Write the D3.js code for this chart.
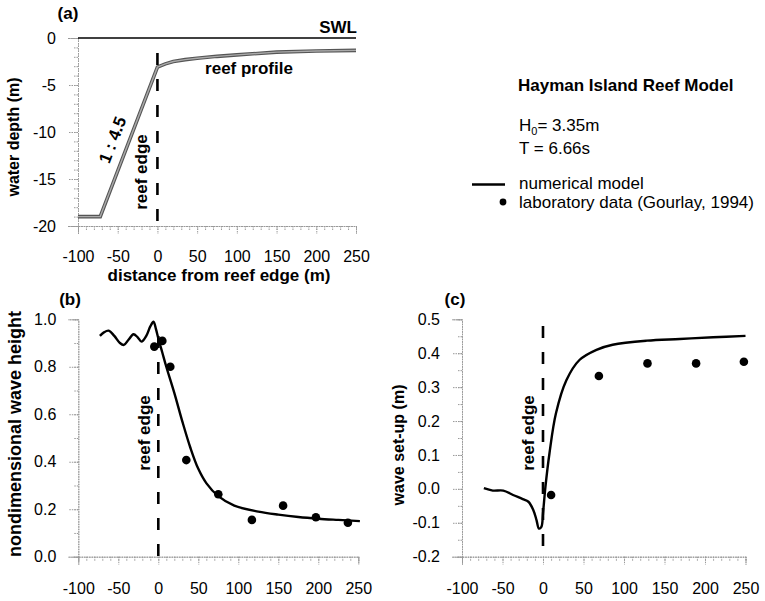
<!DOCTYPE html>
<html>
<head>
<meta charset="utf-8">
<script src="https://cdn.jsdelivr.net/npm/d3@7"></script>
<style>
  body { margin: 0; background: #fff; }
  svg text { font-family: "Liberation Sans", Arial, sans-serif; fill: #000; }
  .axis path, .axis line { stroke: #999; stroke-width: 1; stroke-dasharray: 1.5,1; }
  .axis text { font-size: 16px; }
</style>
</head>
<body>
<svg id="chart" width="765" height="601"></svg>
<script>
// (a) reef profile, depth in m against distance from the reef edge
var reefX = [-100, -72, 0, 10, 20, 35, 50, 75, 100, 150, 200, 250];
var reefZ = [-19, -19, -3.1, -2.75, -2.5, -2.3, -2.15, -1.95, -1.8, -1.5, -1.38, -1.32];
var swlX = [-100, 250];
var swlZ = [0, 0];

// (b) nondimensional wave height
var heightX = [-73, -68, -62, -55, -48, -43, -37, -31, -26, -21, -15, -10, -6, -3, 0, 5, 10, 20, 30, 40, 50, 60, 75, 95, 125, 150, 175, 200, 225, 252];
var heightModel = [0.93, 0.945, 0.952, 0.93, 0.90, 0.892, 0.915, 0.937, 0.925, 0.906, 0.93, 0.97, 0.99, 0.96, 0.92, 0.86, 0.80, 0.69, 0.57, 0.46, 0.37, 0.31, 0.255, 0.215, 0.19, 0.177, 0.167, 0.16, 0.155, 0.15];
var heightLabX = [-5, 5, 15, 35, 75, 117, 156, 197, 237];
var heightLab = [0.885, 0.909, 0.80, 0.407, 0.263, 0.155, 0.215, 0.166, 0.143];

// (c) wave set-up (m)
var setupX = [-73, -62, -49, -37, -25, -18, -12, -8, -5, -2, 0, 3, 8, 16, 29, 45, 66, 86, 128, 169, 210, 250];
var setupModel = [0.002, -0.005, -0.005, -0.018, -0.03, -0.038, -0.062, -0.092, -0.117, -0.112, -0.072, 0.006, 0.105, 0.223, 0.321, 0.38, 0.41, 0.425, 0.437, 0.442, 0.447, 0.451];
var setupLabX = [10, 69, 129, 189, 248];
var setupLab = [-0.018, 0.333, 0.37, 0.37, 0.375];

// tick labels
var xTicks = [-100, -50, 0, 50, 100, 150, 200, 250];
var depthTicks = [-20, -15, -10, -5, 0];
var heightTicks = [0, 0.2, 0.4, 0.6, 0.8, 1.0];
var setupTicks = [-0.2, -0.1, 0, 0.1, 0.2, 0.3, 0.4, 0.5];

var svg = d3.select("#chart");

var xa = d3.scaleLinear().domain([-100, 250]).range([78, 356]);
var ya = d3.scaleLinear().domain([-20, 0]).range([226, 38]);
var xb = d3.scaleLinear().domain([-100, 250]).range([78.3, 358.3]);
var yb = d3.scaleLinear().domain([0, 1]).range([556.7, 319.3]);
var xc = d3.scaleLinear().domain([-100, 250]).range([462, 745.5]);
var yc = d3.scaleLinear().domain([-0.2, 0.5]).range([556.7, 319.3]);

// draws an x axis with minor ticks every 10 m
function xAxis(x, yPos, pad) {
  var minor = d3.range(-100, 251, 10);
  svg.append("g").attr("class", "axis")
    .attr("transform", "translate(0," + yPos + ")")
    .call(d3.axisBottom(x).tickValues(minor).tickSize(5).tickFormat(""));
  svg.append("g").attr("class", "axis")
    .attr("transform", "translate(0," + yPos + ")")
    .call(d3.axisBottom(x).tickValues(xTicks).tickSize(8).tickPadding(pad).tickFormat(d3.format("d")));
}

// y axis, ticks pointing left, minor ticks in between
function yAxis(y, xPos, ticks, minor, fmt) {
  svg.append("g").attr("class", "axis")
    .attr("transform", "translate(" + xPos + ",0)")
    .call(d3.axisLeft(y).tickValues(minor).tickSize(5).tickFormat(""));
  svg.append("g").attr("class", "axis")
    .attr("transform", "translate(" + xPos + ",0)")
    .call(d3.axisLeft(y).tickValues(ticks).tickSize(10).tickPadding(12).tickFormat(fmt));
}

function label(txt, x, y, size, bold, rot) {
  var t = svg.append("text")
    .attr("transform", "translate(" + x + "," + y + ")" + (rot ? " rotate(" + rot + ")" : ""))
    .attr("text-anchor", "middle")
    .style("font-size", size + "px")
    .style("font-weight", bold ? "bold" : "normal")
    .text(txt);
  return t;
}

xAxis(xa, 226, 17);
xAxis(xb, 556.7, 18);
xAxis(xc, 556.7, 18);

yAxis(ya, 78, depthTicks, d3.range(-20, 0.5, 1), d3.format("d"));
yAxis(yb, 78.3, heightTicks, d3.range(0, 1.01, 0.1), d3.format(".1f"));
yAxis(yc, 462, setupTicks, d3.range(-0.2, 0.51, 0.05), d3.format(".1f"));

// plain hyphen for negatives, as in the original figure
svg.selectAll(".axis text").text(function () { return this.textContent.replace("−", "-"); });

// ---- panel (a)
var lineA = d3.line().x(function (d) { return xa(d[0]); }).y(function (d) { return ya(d[1]); });
svg.append("path").datum(d3.zip(swlX, swlZ)).attr("d", lineA)
  .attr("fill", "none").attr("stroke", "#000").attr("stroke-width", 1.6);
svg.append("path").datum(d3.zip(reefX, reefZ)).attr("d", lineA)
  .attr("fill", "none").attr("stroke", "#555").attr("stroke-width", 3.6);
svg.append("path").datum(d3.zip(reefX, reefZ)).attr("d", lineA)
  .attr("fill", "none").attr("stroke", "#aaa").attr("stroke-width", 1.4);
svg.append("line")
  .attr("x1", xa(0)).attr("x2", xa(0)).attr("y1", ya(-1.6)).attr("y2", ya(-20))
  .attr("stroke", "#000").attr("stroke-width", 2.6).attr("stroke-dasharray", "12,14");

label("(a)", 68, 19, 17, true);
label("SWL", 0, 33, 17, true).attr("transform", "translate(357,33)").attr("text-anchor", "end");
label("reef profile", 249, 74, 17, true);
label("reef edge", 147, 172, 17, true, -90);
label("1 : 4.5", 118, 142, 17, true, -69);
label("water depth (m)", 19, 137, 16, true, -90);
label("distance from reef edge (m)", 219, 281, 17, true);

// ---- panel (b)
var lineB = d3.line().curve(d3.curveCatmullRom.alpha(0.5))
  .x(function (d) { return xb(d[0]); }).y(function (d) { return yb(d[1]); });
svg.append("line")
  .attr("x1", xb(0)).attr("x2", xb(0)).attr("y1", yb(0.93)).attr("y2", yb(0))
  .attr("stroke", "#000").attr("stroke-width", 2.6).attr("stroke-dasharray", "12,14");
svg.append("path").datum(d3.zip(heightX, heightModel)).attr("d", lineB)
  .attr("fill", "none").attr("stroke", "#000").attr("stroke-width", 2.4);
svg.selectAll(".dotb").data(d3.zip(heightLabX, heightLab)).enter().append("circle")
  .attr("class", "dotb")
  .attr("cx", function (d) { return xb(d[0]); })
  .attr("cy", function (d) { return yb(d[1]); })
  .attr("r", 4.3).attr("fill", "#000");

label("(b)", 70, 305, 17, true);
label("reef edge", 150, 433, 17, true, -90);
label("nondimensional wave height", 21, 434, 18, true, -90);

// ---- panel (c)
var lineC = d3.line().curve(d3.curveCatmullRom.alpha(0.5))
  .x(function (d) { return xc(d[0]); }).y(function (d) { return yc(d[1]); });
svg.append("line")
  .attr("x1", xc(0)).attr("x2", xc(0)).attr("y1", yc(0.48)).attr("y2", yc(-0.2))
  .attr("stroke", "#000").attr("stroke-width", 2.6).attr("stroke-dasharray", "12,14");
svg.append("path").datum(d3.zip(setupX, setupModel)).attr("d", lineC)
  .attr("fill", "none").attr("stroke", "#000").attr("stroke-width", 2.4);
svg.selectAll(".dotc").data(d3.zip(setupLabX, setupLab)).enter().append("circle")
  .attr("class", "dotc")
  .attr("cx", function (d) { return xc(d[0]); })
  .attr("cy", function (d) { return yc(d[1]); })
  .attr("r", 4.3).attr("fill", "#000");

label("(c)", 455, 305, 17, true);
label("reef edge", 534, 433, 17, true, -90);
label("wave set-up (m)", 404, 445, 16, true, -90);

// ---- title and legend
svg.append("text").attr("x", 518).attr("y", 91)
  .style("font-size", "17px").style("font-weight", "bold").text("Hayman Island Reef Model");
var h0 = svg.append("text").attr("x", 519).attr("y", 131).style("font-size", "17px");
h0.append("tspan").text("H");
h0.append("tspan").attr("dy", 4).style("font-size", "11px").text("0");
h0.append("tspan").attr("dy", -4).text("= 3.35m");
svg.append("text").attr("x", 519).attr("y", 154).style("font-size", "17px").text("T = 6.66s");

svg.append("line").attr("x1", 472).attr("x2", 505).attr("y1", 184.5).attr("y2", 184.5)
  .attr("stroke", "#000").attr("stroke-width", 2.4);
svg.append("text").attr("x", 519).attr("y", 189).style("font-size", "17px").text("numerical model");
svg.append("circle").attr("cx", 503).attr("cy", 202).attr("r", 3.4).attr("fill", "#000");
svg.append("text").attr("x", 519).attr("y", 208).style("font-size", "17px").text("laboratory data (Gourlay, 1994)");
</script>
</body>
</html>
